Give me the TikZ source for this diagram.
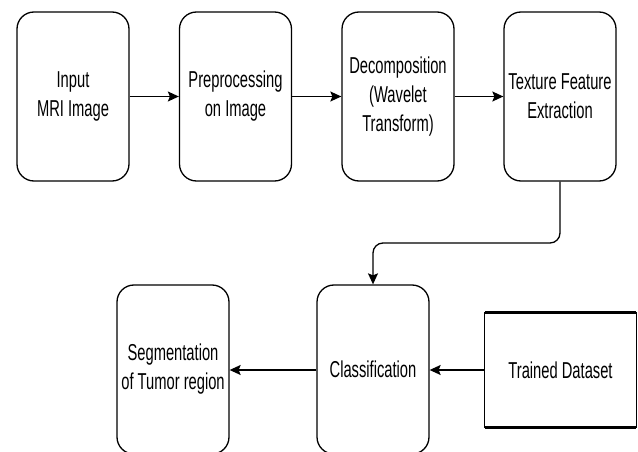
\documentclass[tikz,border=0pt]{standalone}
\usepackage{fontspec}
\setmainfont[FakeStretch=0.64]{Liberation Sans}
\usetikzlibrary{arrows.meta}
\begin{document}
\begin{tikzpicture}[x=1pt,y=-1pt,
  stepbox/.style={draw, line width=1.3pt, rounded corners=17pt, minimum width=112pt,
    minimum height=169pt, inner sep=0pt, align=center,
    font=\fontsize{23}{29}\selectfont},
  flow/.style={line width=1.3pt, -{Stealth[length=11pt,width=10pt,inset=2pt]}}]
\useasboundingbox (0,0) rectangle (638,452);
\node[stepbox] (input) at (73,96.5) {Input\\MRI Image};
\node[stepbox] (pre) at (235.5,96.5) {Preprocessing\\on Image};
\node[stepbox] (dec) at (398,96.5) {Decomposition\\(Wavelet\\Transform)};
\node[stepbox] (tex) at (560,96.5) {Texture Feature\\Extraction};
\node[stepbox] (cls) at (373,369.5) {Classification};
\node[stepbox] (seg) at (173,369.5) {Segmentation\\of Tumor region};
\node[minimum width=151pt, minimum height=115pt, inner sep=0pt,
      font=\fontsize{23}{29}\selectfont] (tds) at (560.5,370) {Trained Dataset};
\draw[line width=1.3pt] (tds.north west) -- (tds.south west);
\draw[line width=1.3pt] (tds.north east) -- (tds.south east);
\draw[line width=3pt] (tds.north west) -- (tds.north east);
\draw[line width=3pt] (tds.south west) -- (tds.south east);
\coordinate (bend) at (560,243);
\draw[flow] (input) -- (pre);
\draw[flow] (pre) -- (dec);
\draw[flow] (dec) -- (tex);
\draw[flow, rounded corners=10pt] (tex.south) -- (bend) -- (bend -| cls.north) -- (cls.north);
\draw[flow] (tds.west) -- (cls.east |- tds.west);
\draw[flow] (cls.west |- tds.west) -- (seg.east |- tds.west);
\end{tikzpicture}
\end{document}
